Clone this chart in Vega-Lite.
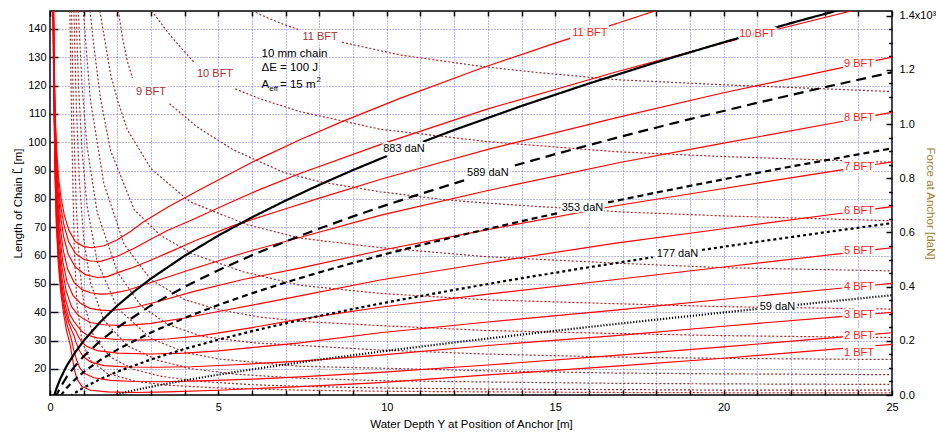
{
"$schema":"https://vega.github.io/schema/vega-lite/v6.json",
"width":842,"height":384,
"autosize":{"type":"none"},
"padding":{"left":50,"top":11,"right":44,"bottom":39},
"background":"white",
"config":{
 "font":"Liberation Sans",
 "view":{"stroke":"#000","strokeWidth":1.5},
 "axis":{"domain":false,"labelFont":"Liberation Sans","labelFontSize":11,"labelColor":"#000","titleFont":"Liberation Sans","titleFontSize":11.5,"titleFontWeight":"normal","titleColor":"#000","tickColor":"#000","tickWidth":1.5,"gridColor":"#4d4dff","gridDash":[1,2],"gridOpacity":0.8,"gridWidth":1,"labelFlush":false,"labelOverlap":false,"labelBound":false},
 "text":{"font":"Liberation Sans"}
},
"datasets":{
"red":[
{"bft":1,"seg":0,"x":0.088,"L":147},{"bft":1,"seg":0,"x":0.106,"L":125},{"bft":1,"seg":0,"x":0.124,"L":108},{"bft":1,"seg":0,"x":0.151,"L":87},{"bft":1,"seg":0,"x":0.188,"L":71},{"bft":1,"seg":0,"x":0.245,"L":57.5},{"bft":1,"seg":0,"x":0.32,"L":47},{"bft":1,"seg":0,"x":0.41,"L":39},{"bft":1,"seg":0,"x":0.49,"L":33.5},{"bft":1,"seg":0,"x":0.55,"L":30.8},{"bft":1,"seg":0,"x":0.59,"L":29.1},{"bft":1,"seg":0,"x":0.65,"L":25},{"bft":1,"seg":0,"x":0.72,"L":20},{"bft":1,"seg":0,"x":0.8,"L":16.5},{"bft":1,"seg":0,"x":0.95,"L":13.8},{"bft":1,"seg":0,"x":1.2,"L":12.5},{"bft":1,"seg":0,"x":1.7,"L":11.9},{"bft":1,"seg":0,"x":2.5,"L":11.7},{"bft":1,"seg":0,"x":3.5,"L":11.9},{"bft":1,"seg":0,"x":5,"L":12.5},{"bft":1,"seg":0,"x":7.42,"L":13.8},{"bft":1,"seg":0,"x":9.8,"L":15.2},{"bft":1,"seg":0,"x":13,"L":17.9},{"bft":1,"seg":0,"x":16.8,"L":21},{"bft":1,"seg":0,"x":20,"L":23.8},{"bft":1,"seg":0,"x":23.55,"L":27.28},{"bft":1,"seg":1,"x":24.5,"L":28.21},{"bft":1,"seg":1,"x":25,"L":28.7},
{"bft":2,"seg":0,"x":0.09,"L":147},{"bft":2,"seg":0,"x":0.108,"L":125},{"bft":2,"seg":0,"x":0.127,"L":108},{"bft":2,"seg":0,"x":0.154,"L":88},{"bft":2,"seg":0,"x":0.192,"L":72},{"bft":2,"seg":0,"x":0.25,"L":58.5},{"bft":2,"seg":0,"x":0.33,"L":48},{"bft":2,"seg":0,"x":0.43,"L":40},{"bft":2,"seg":0,"x":0.52,"L":35},{"bft":2,"seg":0,"x":0.59,"L":32.3},{"bft":2,"seg":0,"x":0.64,"L":30.3},{"bft":2,"seg":0,"x":0.7,"L":27},{"bft":2,"seg":0,"x":0.78,"L":23.5},{"bft":2,"seg":0,"x":0.88,"L":20.5},{"bft":2,"seg":0,"x":1,"L":18.6},{"bft":2,"seg":0,"x":1.3,"L":16.9},{"bft":2,"seg":0,"x":1.8,"L":16},{"bft":2,"seg":0,"x":2.5,"L":15.6},{"bft":2,"seg":0,"x":3.3,"L":15.5},{"bft":2,"seg":0,"x":4.5,"L":15.8},{"bft":2,"seg":0,"x":6,"L":16.4},{"bft":2,"seg":0,"x":7.42,"L":17.2},{"bft":2,"seg":0,"x":9.8,"L":18.8},{"bft":2,"seg":0,"x":13,"L":21.4},{"bft":2,"seg":0,"x":16.8,"L":24.8},{"bft":2,"seg":0,"x":20,"L":27.8},{"bft":2,"seg":0,"x":23.55,"L":31.35},{"bft":2,"seg":1,"x":24.5,"L":32.3},{"bft":2,"seg":1,"x":25,"L":32.8},
{"bft":3,"seg":0,"x":0.092,"L":147},{"bft":3,"seg":0,"x":0.11,"L":125},{"bft":3,"seg":0,"x":0.13,"L":108},{"bft":3,"seg":0,"x":0.157,"L":89},{"bft":3,"seg":0,"x":0.196,"L":73},{"bft":3,"seg":0,"x":0.255,"L":59.5},{"bft":3,"seg":0,"x":0.335,"L":49},{"bft":3,"seg":0,"x":0.44,"L":41},{"bft":3,"seg":0,"x":0.56,"L":36},{"bft":3,"seg":0,"x":0.64,"L":33.7},{"bft":3,"seg":0,"x":0.71,"L":31.9},{"bft":3,"seg":0,"x":0.78,"L":29.2},{"bft":3,"seg":0,"x":0.87,"L":26.5},{"bft":3,"seg":0,"x":1,"L":24.2},{"bft":3,"seg":0,"x":1.2,"L":22.5},{"bft":3,"seg":0,"x":1.6,"L":21.2},{"bft":3,"seg":0,"x":2.3,"L":20.7},{"bft":3,"seg":0,"x":3.2,"L":20.6},{"bft":3,"seg":0,"x":4.2,"L":20.8},{"bft":3,"seg":0,"x":5.5,"L":21.5},{"bft":3,"seg":0,"x":7.42,"L":22.8},{"bft":3,"seg":0,"x":9.8,"L":24.9},{"bft":3,"seg":0,"x":13,"L":28.3},{"bft":3,"seg":0,"x":16.8,"L":31.8},{"bft":3,"seg":0,"x":20,"L":35.1},{"bft":3,"seg":0,"x":23.55,"L":38.58},{"bft":3,"seg":1,"x":24.5,"L":39.51},{"bft":3,"seg":1,"x":25,"L":40},
{"bft":4,"seg":0,"x":0.094,"L":147},{"bft":4,"seg":0,"x":0.112,"L":125},{"bft":4,"seg":0,"x":0.133,"L":108},{"bft":4,"seg":0,"x":0.16,"L":90},{"bft":4,"seg":0,"x":0.2,"L":74.5},{"bft":4,"seg":0,"x":0.26,"L":61},{"bft":4,"seg":0,"x":0.34,"L":50.5},{"bft":4,"seg":0,"x":0.45,"L":42.5},{"bft":4,"seg":0,"x":0.58,"L":37},{"bft":4,"seg":0,"x":0.68,"L":35},{"bft":4,"seg":0,"x":0.77,"L":33.3},{"bft":4,"seg":0,"x":0.85,"L":31.3},{"bft":4,"seg":0,"x":0.95,"L":29.5},{"bft":4,"seg":0,"x":1.1,"L":27.9},{"bft":4,"seg":0,"x":1.4,"L":26.5},{"bft":4,"seg":0,"x":2,"L":25.6},{"bft":4,"seg":0,"x":3,"L":25.3},{"bft":4,"seg":0,"x":4,"L":25.6},{"bft":4,"seg":0,"x":5,"L":26.4},{"bft":4,"seg":0,"x":7.42,"L":29.2},{"bft":4,"seg":0,"x":9.8,"L":32.8},{"bft":4,"seg":0,"x":13,"L":36.6},{"bft":4,"seg":0,"x":16.8,"L":40.8},{"bft":4,"seg":0,"x":20,"L":44.6},{"bft":4,"seg":0,"x":23.55,"L":48.58},{"bft":4,"seg":1,"x":24.5,"L":49.64},{"bft":4,"seg":1,"x":25,"L":50.2},
{"bft":5,"seg":0,"x":0.096,"L":147},{"bft":5,"seg":0,"x":0.114,"L":125},{"bft":5,"seg":0,"x":0.136,"L":108},{"bft":5,"seg":0,"x":0.164,"L":91},{"bft":5,"seg":0,"x":0.205,"L":76},{"bft":5,"seg":0,"x":0.265,"L":63},{"bft":5,"seg":0,"x":0.35,"L":52.5},{"bft":5,"seg":0,"x":0.46,"L":44.5},{"bft":5,"seg":0,"x":0.6,"L":39},{"bft":5,"seg":0,"x":0.72,"L":36.6},{"bft":5,"seg":0,"x":0.84,"L":34.8},{"bft":5,"seg":0,"x":0.95,"L":33.2},{"bft":5,"seg":0,"x":1.1,"L":32},{"bft":5,"seg":0,"x":1.4,"L":31},{"bft":5,"seg":0,"x":2,"L":30.4},{"bft":5,"seg":0,"x":2.7,"L":30.2},{"bft":5,"seg":0,"x":3.5,"L":30.6},{"bft":5,"seg":0,"x":4.5,"L":31.8},{"bft":5,"seg":0,"x":6,"L":34.6},{"bft":5,"seg":0,"x":7.42,"L":37.6},{"bft":5,"seg":0,"x":9.8,"L":41.8},{"bft":5,"seg":0,"x":13,"L":46.4},{"bft":5,"seg":0,"x":16.8,"L":51.6},{"bft":5,"seg":0,"x":20,"L":56},{"bft":5,"seg":0,"x":23.55,"L":60.83},{"bft":5,"seg":1,"x":24.5,"L":62.12},{"bft":5,"seg":1,"x":25,"L":62.8},
{"bft":6,"seg":0,"x":0.098,"L":147},{"bft":6,"seg":0,"x":0.116,"L":125},{"bft":6,"seg":0,"x":0.139,"L":108},{"bft":6,"seg":0,"x":0.168,"L":92},{"bft":6,"seg":0,"x":0.21,"L":78},{"bft":6,"seg":0,"x":0.27,"L":66},{"bft":6,"seg":0,"x":0.36,"L":55.5},{"bft":6,"seg":0,"x":0.48,"L":47.5},{"bft":6,"seg":0,"x":0.64,"L":42},{"bft":6,"seg":0,"x":0.82,"L":39.2},{"bft":6,"seg":0,"x":0.99,"L":37.7},{"bft":6,"seg":0,"x":1.2,"L":36.4},{"bft":6,"seg":0,"x":1.6,"L":35.6},{"bft":6,"seg":0,"x":2.2,"L":35.3},{"bft":6,"seg":0,"x":3,"L":36.1},{"bft":6,"seg":0,"x":4,"L":38},{"bft":6,"seg":0,"x":5,"L":40.3},{"bft":6,"seg":0,"x":6.2,"L":43},{"bft":6,"seg":0,"x":7.42,"L":45.8},{"bft":6,"seg":0,"x":9.8,"L":51.4},{"bft":6,"seg":0,"x":13,"L":57.5},{"bft":6,"seg":0,"x":16.8,"L":64.4},{"bft":6,"seg":0,"x":20,"L":69.5},{"bft":6,"seg":0,"x":23.55,"L":75.04},{"bft":6,"seg":1,"x":24.5,"L":76.52},{"bft":6,"seg":1,"x":25,"L":77.3},
{"bft":7,"seg":0,"x":0.1,"L":147},{"bft":7,"seg":0,"x":0.118,"L":125},{"bft":7,"seg":0,"x":0.142,"L":108},{"bft":7,"seg":0,"x":0.172,"L":93},{"bft":7,"seg":0,"x":0.215,"L":80},{"bft":7,"seg":0,"x":0.28,"L":68.5},{"bft":7,"seg":0,"x":0.37,"L":58.5},{"bft":7,"seg":0,"x":0.5,"L":51},{"bft":7,"seg":0,"x":0.68,"L":46},{"bft":7,"seg":0,"x":0.9,"L":43.2},{"bft":7,"seg":0,"x":1.19,"L":41.4},{"bft":7,"seg":0,"x":1.5,"L":40.8},{"bft":7,"seg":0,"x":1.8,"L":40.6},{"bft":7,"seg":0,"x":2.5,"L":41.7},{"bft":7,"seg":0,"x":3.27,"L":44},{"bft":7,"seg":0,"x":4.25,"L":47.3},{"bft":7,"seg":0,"x":5.73,"L":51.6},{"bft":7,"seg":0,"x":7.42,"L":55.6},{"bft":7,"seg":0,"x":9.8,"L":61.8},{"bft":7,"seg":0,"x":13,"L":69.2},{"bft":7,"seg":0,"x":16.8,"L":77.6},{"bft":7,"seg":0,"x":20,"L":83.7},{"bft":7,"seg":0,"x":23.55,"L":90.37},{"bft":7,"seg":1,"x":24.5,"L":92.16},{"bft":7,"seg":1,"x":25,"L":93.1},
{"bft":8,"seg":0,"x":0.102,"L":147},{"bft":8,"seg":0,"x":0.121,"L":125},{"bft":8,"seg":0,"x":0.146,"L":108},{"bft":8,"seg":0,"x":0.177,"L":94},{"bft":8,"seg":0,"x":0.22,"L":82},{"bft":8,"seg":0,"x":0.29,"L":71.5},{"bft":8,"seg":0,"x":0.39,"L":62},{"bft":8,"seg":0,"x":0.53,"L":55},{"bft":8,"seg":0,"x":0.72,"L":50.5},{"bft":8,"seg":0,"x":0.95,"L":48},{"bft":8,"seg":0,"x":1.2,"L":46.9},{"bft":8,"seg":0,"x":1.48,"L":46.4},{"bft":8,"seg":0,"x":1.8,"L":46.6},{"bft":8,"seg":0,"x":2.3,"L":47.8},{"bft":8,"seg":0,"x":3,"L":50.5},{"bft":8,"seg":0,"x":4.16,"L":55},{"bft":8,"seg":0,"x":5.84,"L":61.3},{"bft":8,"seg":0,"x":7.42,"L":66.4},{"bft":8,"seg":0,"x":9.8,"L":74.2},{"bft":8,"seg":0,"x":13,"L":83},{"bft":8,"seg":0,"x":16.92,"L":92.9},{"bft":8,"seg":0,"x":20,"L":99.7},{"bft":8,"seg":0,"x":23.55,"L":107.44},{"bft":8,"seg":1,"x":24.5,"L":109.51},{"bft":8,"seg":1,"x":25,"L":110.6},
{"bft":9,"seg":0,"x":0.104,"L":147},{"bft":9,"seg":0,"x":0.124,"L":125},{"bft":9,"seg":0,"x":0.15,"L":108},{"bft":9,"seg":0,"x":0.183,"L":95},{"bft":9,"seg":0,"x":0.23,"L":84},{"bft":9,"seg":0,"x":0.3,"L":75},{"bft":9,"seg":0,"x":0.4,"L":67},{"bft":9,"seg":0,"x":0.54,"L":60.5},{"bft":9,"seg":0,"x":0.75,"L":56},{"bft":9,"seg":0,"x":1.05,"L":53.3},{"bft":9,"seg":0,"x":1.4,"L":52.3},{"bft":9,"seg":0,"x":1.7,"L":52.6},{"bft":9,"seg":0,"x":2.03,"L":54.1},{"bft":9,"seg":0,"x":2.5,"L":56},{"bft":9,"seg":0,"x":3,"L":58.5},{"bft":9,"seg":0,"x":3.46,"L":60.8},{"bft":9,"seg":0,"x":4.36,"L":65.5},{"bft":9,"seg":0,"x":5.44,"L":70.6},{"bft":9,"seg":0,"x":6.93,"L":76.3},{"bft":9,"seg":0,"x":8.02,"L":80.4},{"bft":9,"seg":0,"x":9.8,"L":86.9},{"bft":9,"seg":0,"x":11.78,"L":93.5},{"bft":9,"seg":0,"x":13,"L":97.5},{"bft":9,"seg":0,"x":16.92,"L":109},{"bft":9,"seg":0,"x":20,"L":117.5},{"bft":9,"seg":0,"x":23.55,"L":126.45},{"bft":9,"seg":1,"x":24.5,"L":128.84},{"bft":9,"seg":1,"x":25,"L":130.1},
{"bft":10,"seg":0,"x":0.106,"L":147},{"bft":10,"seg":0,"x":0.127,"L":125},{"bft":10,"seg":0,"x":0.155,"L":108},{"bft":10,"seg":0,"x":0.19,"L":96},{"bft":10,"seg":0,"x":0.24,"L":86},{"bft":10,"seg":0,"x":0.31,"L":78},{"bft":10,"seg":0,"x":0.41,"L":71},{"bft":10,"seg":0,"x":0.55,"L":65},{"bft":10,"seg":0,"x":0.75,"L":60.8},{"bft":10,"seg":0,"x":1,"L":58.7},{"bft":10,"seg":0,"x":1.2,"L":58.1},{"bft":10,"seg":0,"x":1.5,"L":58},{"bft":10,"seg":0,"x":2,"L":59.8},{"bft":10,"seg":0,"x":2.5,"L":62.6},{"bft":10,"seg":0,"x":3.02,"L":66},{"bft":10,"seg":0,"x":3.5,"L":69},{"bft":10,"seg":0,"x":4.16,"L":72.3},{"bft":10,"seg":0,"x":5.25,"L":78.2},{"bft":10,"seg":0,"x":6.24,"L":83.4},{"bft":10,"seg":0,"x":7.42,"L":89},{"bft":10,"seg":0,"x":9.8,"L":99.2},{"bft":10,"seg":0,"x":13,"L":111.8},{"bft":10,"seg":0,"x":16.8,"L":124.8},{"bft":10,"seg":0,"x":20,"L":135.1},{"bft":10,"seg":0,"x":20.4,"L":136.3},{"bft":10,"seg":1,"x":21.6,"L":139.9},{"bft":10,"seg":1,"x":24,"L":147},
{"bft":11,"seg":0,"x":0.108,"L":147},{"bft":11,"seg":0,"x":0.13,"L":125},{"bft":11,"seg":0,"x":0.16,"L":108},{"bft":11,"seg":0,"x":0.2,"L":97},{"bft":11,"seg":0,"x":0.25,"L":88},{"bft":11,"seg":0,"x":0.32,"L":81},{"bft":11,"seg":0,"x":0.42,"L":74.5},{"bft":11,"seg":0,"x":0.56,"L":69},{"bft":11,"seg":0,"x":0.75,"L":65},{"bft":11,"seg":0,"x":1,"L":63.2},{"bft":11,"seg":0,"x":1.25,"L":62.8},{"bft":11,"seg":0,"x":1.6,"L":63.5},{"bft":11,"seg":0,"x":2,"L":65.6},{"bft":11,"seg":0,"x":2.4,"L":68.6},{"bft":11,"seg":0,"x":2.77,"L":71.9},{"bft":11,"seg":0,"x":3.5,"L":77.2},{"bft":11,"seg":0,"x":4.5,"L":83.6},{"bft":11,"seg":0,"x":6,"L":93},{"bft":11,"seg":0,"x":7.42,"L":100.9},{"bft":11,"seg":0,"x":8.67,"L":107.3},{"bft":11,"seg":0,"x":10.39,"L":115.5},{"bft":11,"seg":0,"x":12.86,"L":126.4},{"bft":11,"seg":0,"x":15,"L":135},{"bft":11,"seg":0,"x":15.44,"L":136.7},{"bft":11,"seg":1,"x":16.6,"L":141.1},{"bft":11,"seg":1,"x":16.92,"L":142.3},{"bft":11,"seg":1,"x":18.3,"L":147.7}
],
"dot":[
{"bft":1,"seg":0,"x":0.59,"F":1.418},{"bft":1,"seg":0,"x":0.65,"F":0.948},{"bft":1,"seg":0,"x":0.72,"F":0.547},{"bft":1,"seg":0,"x":0.8,"F":0.335},{"bft":1,"seg":0,"x":0.95,"F":0.197},{"bft":1,"seg":0,"x":1.2,"F":0.127},{"bft":1,"seg":0,"x":1.7,"F":0.08},{"bft":1,"seg":0,"x":2.5,"F":0.052},{"bft":1,"seg":0,"x":3.5,"F":0.036},{"bft":1,"seg":0,"x":5,"F":0.026},{"bft":1,"seg":0,"x":7.42,"F":0.018},{"bft":1,"seg":0,"x":9.8,"F":0.014},{"bft":1,"seg":0,"x":13,"F":0.0115},{"bft":1,"seg":0,"x":16.8,"F":0.0093},{"bft":1,"seg":0,"x":20,"F":0.0082},{"bft":1,"seg":0,"x":25,"F":0.0078},
{"bft":2,"seg":0,"x":0.64,"F":1.418},{"bft":2,"seg":0,"x":0.7,"F":1.026},{"bft":2,"seg":0,"x":0.78,"F":0.697},{"bft":2,"seg":0,"x":0.88,"F":0.47},{"bft":2,"seg":0,"x":1,"F":0.34},{"bft":2,"seg":0,"x":1.3,"F":0.215},{"bft":2,"seg":0,"x":1.8,"F":0.139},{"bft":2,"seg":0,"x":2.5,"F":0.094},{"bft":2,"seg":0,"x":3.3,"F":0.069},{"bft":2,"seg":0,"x":4.5,"F":0.05},{"bft":2,"seg":0,"x":6,"F":0.038},{"bft":2,"seg":0,"x":7.42,"F":0.032},{"bft":2,"seg":0,"x":9.8,"F":0.026},{"bft":2,"seg":0,"x":13,"F":0.022},{"bft":2,"seg":0,"x":16.8,"F":0.02},{"bft":2,"seg":0,"x":20,"F":0.018},{"bft":2,"seg":0,"x":25,"F":0.0178},
{"bft":3,"seg":0,"x":0.71,"F":1.418},{"bft":3,"seg":0,"x":0.78,"F":1.077},{"bft":3,"seg":0,"x":0.87,"F":0.795},{"bft":3,"seg":0,"x":1,"F":0.577},{"bft":3,"seg":0,"x":1.2,"F":0.415},{"bft":3,"seg":0,"x":1.6,"F":0.276},{"bft":3,"seg":0,"x":2.3,"F":0.182},{"bft":3,"seg":0,"x":3.2,"F":0.128},{"bft":3,"seg":0,"x":4.2,"F":0.097},{"bft":3,"seg":0,"x":5.5,"F":0.077},{"bft":3,"seg":0,"x":7.42,"F":0.062},{"bft":3,"seg":0,"x":9.8,"F":0.053},{"bft":3,"seg":0,"x":13,"F":0.048},{"bft":3,"seg":0,"x":16.8,"F":0.043},{"bft":3,"seg":0,"x":20,"F":0.041},{"bft":3,"seg":0,"x":25,"F":0.039},
{"bft":4,"seg":0,"x":0.77,"F":1.418},{"bft":4,"seg":0,"x":0.85,"F":1.136},{"bft":4,"seg":0,"x":0.95,"F":0.902},{"bft":4,"seg":0,"x":1.1,"F":0.697},{"bft":4,"seg":0,"x":1.4,"F":0.493},{"bft":4,"seg":0,"x":2,"F":0.321},{"bft":4,"seg":0,"x":3,"F":0.208},{"bft":4,"seg":0,"x":4,"F":0.158},{"bft":4,"seg":0,"x":5,"F":0.133},{"bft":4,"seg":0,"x":7.42,"F":0.106},{"bft":4,"seg":0,"x":9.8,"F":0.099},{"bft":4,"seg":0,"x":13,"F":0.089},{"bft":4,"seg":0,"x":16.8,"F":0.081},{"bft":4,"seg":0,"x":20,"F":0.078},{"bft":4,"seg":0,"x":25,"F":0.075},
{"bft":5,"seg":0,"x":0.84,"F":1.418},{"bft":5,"seg":0,"x":0.95,"F":1.143},{"bft":5,"seg":0,"x":1.1,"F":0.917},{"bft":5,"seg":0,"x":1.4,"F":0.675},{"bft":5,"seg":0,"x":2,"F":0.454},{"bft":5,"seg":0,"x":2.7,"F":0.33},{"bft":5,"seg":0,"x":3.5,"F":0.26},{"bft":5,"seg":0,"x":4.5,"F":0.217},{"bft":5,"seg":0,"x":6,"F":0.193},{"bft":5,"seg":0,"x":7.42,"F":0.183},{"bft":5,"seg":0,"x":9.8,"F":0.166},{"bft":5,"seg":0,"x":13,"F":0.151},{"bft":5,"seg":0,"x":16.8,"F":0.14},{"bft":5,"seg":0,"x":20,"F":0.135},{"bft":5,"seg":0,"x":25,"F":0.131},
{"bft":6,"seg":0,"x":0.99,"F":1.418},{"bft":6,"seg":0,"x":1.1,"F":1.24},{"bft":6,"seg":0,"x":1.2,"F":1.088},{"bft":6,"seg":0,"x":1.6,"F":0.78},{"bft":6,"seg":0,"x":2.2,"F":0.556},{"bft":6,"seg":0,"x":3,"F":0.425},{"bft":6,"seg":0,"x":4,"F":0.352},{"bft":6,"seg":0,"x":5,"F":0.315},{"bft":6,"seg":0,"x":6.2,"F":0.288},{"bft":6,"seg":0,"x":7.42,"F":0.272},{"bft":6,"seg":0,"x":9.8,"F":0.256},{"bft":6,"seg":0,"x":13,"F":0.238},{"bft":6,"seg":0,"x":16.8,"F":0.227},{"bft":6,"seg":0,"x":20,"F":0.219},{"bft":6,"seg":0,"x":25,"F":0.212},
{"bft":7,"seg":0,"x":1.19,"F":1.418},{"bft":7,"seg":0,"x":1.3,"F":1.29},{"bft":7,"seg":0,"x":1.5,"F":1.093},{"bft":7,"seg":0,"x":1.8,"F":0.901},{"bft":7,"seg":0,"x":2.5,"F":0.684},{"bft":7,"seg":0,"x":3.27,"F":0.59},{"bft":7,"seg":0,"x":4.25,"F":0.52},{"bft":7,"seg":0,"x":5.73,"F":0.455},{"bft":7,"seg":0,"x":7.42,"F":0.405},{"bft":7,"seg":0,"x":9.8,"F":0.375},{"bft":7,"seg":0,"x":13,"F":0.351},{"bft":7,"seg":0,"x":16.8,"F":0.337},{"bft":7,"seg":0,"x":20,"F":0.326},{"bft":7,"seg":0,"x":25,"F":0.317},
{"bft":8,"seg":0,"x":1.48,"F":1.418},{"bft":8,"seg":0,"x":1.6,"F":1.33},{"bft":8,"seg":0,"x":1.8,"F":1.183},{"bft":8,"seg":0,"x":2,"F":1.09},{"bft":8,"seg":0,"x":2.3,"F":0.978},{"bft":8,"seg":0,"x":3,"F":0.835},{"bft":8,"seg":0,"x":4.16,"F":0.713},{"bft":8,"seg":0,"x":5.84,"F":0.629},{"bft":8,"seg":0,"x":7.42,"F":0.579},{"bft":8,"seg":0,"x":9.8,"F":0.544},{"bft":8,"seg":0,"x":13,"F":0.51},{"bft":8,"seg":0,"x":16.92,"F":0.486},{"bft":8,"seg":0,"x":20,"F":0.47},{"bft":8,"seg":0,"x":25,"F":0.458},
{"bft":9,"seg":0,"x":2.03,"F":1.418},{"bft":9,"seg":0,"x":2.15,"F":1.32},{"bft":9,"seg":0,"x":2.3,"F":1.23},{"bft":9,"seg":0,"x":2.45,"F":1.17},{"bft":9,"seg":1,"x":3.55,"F":1.075},{"bft":9,"seg":1,"x":4.36,"F":0.99},{"bft":9,"seg":1,"x":5.44,"F":0.905},{"bft":9,"seg":1,"x":6.93,"F":0.822},{"bft":9,"seg":1,"x":8.02,"F":0.787},{"bft":9,"seg":1,"x":9.8,"F":0.75},{"bft":9,"seg":1,"x":11.78,"F":0.72},{"bft":9,"seg":1,"x":13,"F":0.708},{"bft":9,"seg":1,"x":16.92,"F":0.676},{"bft":9,"seg":1,"x":20,"F":0.661},{"bft":9,"seg":1,"x":25,"F":0.643},
{"bft":10,"seg":0,"x":3.02,"F":1.418},{"bft":10,"seg":0,"x":3.5,"F":1.338},{"bft":10,"seg":0,"x":3.9,"F":1.28},{"bft":10,"seg":0,"x":4.3,"F":1.225},{"bft":10,"seg":1,"x":5.5,"F":1.13},{"bft":10,"seg":1,"x":6.24,"F":1.093},{"bft":10,"seg":1,"x":7.42,"F":1.046},{"bft":10,"seg":1,"x":9.8,"F":0.981},{"bft":10,"seg":1,"x":13,"F":0.935},{"bft":10,"seg":1,"x":16.8,"F":0.898},{"bft":10,"seg":1,"x":20,"F":0.88},{"bft":10,"seg":1,"x":25,"F":0.859},
{"bft":11,"seg":0,"x":6,"F":1.418},{"bft":11,"seg":0,"x":6.5,"F":1.39},{"bft":11,"seg":0,"x":7,"F":1.365},{"bft":11,"seg":0,"x":7.42,"F":1.347},{"bft":11,"seg":1,"x":8.67,"F":1.302},{"bft":11,"seg":1,"x":10.39,"F":1.255},{"bft":11,"seg":1,"x":12.86,"F":1.212},{"bft":11,"seg":1,"x":14.5,"F":1.19},{"bft":11,"seg":1,"x":16.92,"F":1.163},{"bft":11,"seg":1,"x":20,"F":1.145},{"bft":11,"seg":1,"x":25,"F":1.12}
],
"blk":[
{"force":"883","seg":0,"x":0.1,"L":9.46},{"force":"883","seg":0,"x":0.15,"L":11.59},{"force":"883","seg":0,"x":0.2,"L":13.38},{"force":"883","seg":0,"x":0.3,"L":16.39},{"force":"883","seg":0,"x":0.5,"L":21.17},{"force":"883","seg":0,"x":0.75,"L":25.93},{"force":"883","seg":0,"x":1,"L":29.94},{"force":"883","seg":0,"x":1.5,"L":36.68},{"force":"883","seg":0,"x":2,"L":42.37},{"force":"883","seg":0,"x":2.5,"L":47.38},{"force":"883","seg":0,"x":3,"L":51.92},{"force":"883","seg":0,"x":4,"L":59.98},{"force":"883","seg":0,"x":5,"L":67.1},{"force":"883","seg":0,"x":6,"L":73.54},{"force":"883","seg":0,"x":7,"L":79.48},{"force":"883","seg":0,"x":8,"L":85.01},{"force":"883","seg":0,"x":9,"L":90.22},{"force":"883","seg":0,"x":10,"L":95.15},{"force":"883","seg":1,"x":11.07,"L":100.17},{"force":"883","seg":1,"x":12,"L":104.35},{"force":"883","seg":1,"x":14,"L":112.83},{"force":"883","seg":1,"x":16,"L":120.76},{"force":"883","seg":1,"x":18,"L":128.22},{"force":"883","seg":1,"x":20,"L":135.31},{"force":"883","seg":1,"x":22,"L":142.07},{"force":"883","seg":1,"x":24,"L":148.54},
{"force":"589","seg":0,"x":0.15,"L":9.47},{"force":"589","seg":0,"x":0.2,"L":10.93},{"force":"589","seg":0,"x":0.3,"L":13.39},{"force":"589","seg":0,"x":0.5,"L":17.29},{"force":"589","seg":0,"x":0.75,"L":21.18},{"force":"589","seg":0,"x":1,"L":24.46},{"force":"589","seg":0,"x":1.5,"L":29.97},{"force":"589","seg":0,"x":2,"L":34.62},{"force":"589","seg":0,"x":3,"L":42.43},{"force":"589","seg":0,"x":4,"L":49.04},{"force":"589","seg":0,"x":5,"L":54.87},{"force":"589","seg":0,"x":6,"L":60.16},{"force":"589","seg":0,"x":7,"L":65.03},{"force":"589","seg":0,"x":8,"L":69.58},{"force":"589","seg":0,"x":9,"L":73.86},{"force":"589","seg":0,"x":10,"L":77.92},{"force":"589","seg":0,"x":11,"L":81.79},{"force":"589","seg":0,"x":12.3,"L":86.58},{"force":"589","seg":1,"x":13.8,"L":91.83},{"force":"589","seg":1,"x":15,"L":95.83},{"force":"589","seg":1,"x":17,"L":102.18},{"force":"589","seg":1,"x":19,"L":108.2},{"force":"589","seg":1,"x":21,"L":113.94},{"force":"589","seg":1,"x":23,"L":119.43},{"force":"589","seg":1,"x":25,"L":124.72},
{"force":"353","seg":0,"x":0.3,"L":10.37},{"force":"353","seg":0,"x":0.5,"L":13.39},{"force":"353","seg":0,"x":0.75,"L":16.4},{"force":"353","seg":0,"x":1,"L":18.95},{"force":"353","seg":0,"x":1.5,"L":23.22},{"force":"353","seg":0,"x":2,"L":26.83},{"force":"353","seg":0,"x":3,"L":32.91},{"force":"353","seg":0,"x":4,"L":38.05},{"force":"353","seg":0,"x":5,"L":42.6},{"force":"353","seg":0,"x":6,"L":46.73},{"force":"353","seg":0,"x":7,"L":50.55},{"force":"353","seg":0,"x":8,"L":54.11},{"force":"353","seg":0,"x":9,"L":57.47},{"force":"353","seg":0,"x":10,"L":60.66},{"force":"353","seg":0,"x":11,"L":63.71},{"force":"353","seg":0,"x":12,"L":66.63},{"force":"353","seg":0,"x":13,"L":69.45},{"force":"353","seg":0,"x":14,"L":72.17},{"force":"353","seg":0,"x":15.05,"L":74.93},{"force":"353","seg":1,"x":16.57,"L":78.78},{"force":"353","seg":1,"x":18,"L":82.27},{"force":"353","seg":1,"x":20,"L":86.95},{"force":"353","seg":1,"x":22,"L":91.43},{"force":"353","seg":1,"x":24,"L":95.75},{"force":"353","seg":1,"x":25,"L":97.85},
{"force":"177","seg":0,"x":0.6,"L":10.39},{"force":"177","seg":0,"x":0.75,"L":11.62},{"force":"177","seg":0,"x":1,"L":13.43},{"force":"177","seg":0,"x":1.5,"L":16.47},{"force":"177","seg":0,"x":2,"L":19.05},{"force":"177","seg":0,"x":3,"L":23.39},{"force":"177","seg":0,"x":4,"L":27.09},{"force":"177","seg":0,"x":5,"L":30.36},{"force":"177","seg":0,"x":6,"L":33.35},{"force":"177","seg":0,"x":7,"L":36.12},{"force":"177","seg":0,"x":8,"L":38.72},{"force":"177","seg":0,"x":9,"L":41.18},{"force":"177","seg":0,"x":10,"L":43.52},{"force":"177","seg":0,"x":12,"L":47.92},{"force":"177","seg":0,"x":14,"L":52.03},{"force":"177","seg":0,"x":16,"L":55.91},{"force":"177","seg":0,"x":17.9,"L":59.43},{"force":"177","seg":1,"x":19.36,"L":62.03},{"force":"177","seg":1,"x":21,"L":64.87},{"force":"177","seg":1,"x":23,"L":68.23},{"force":"177","seg":1,"x":25,"L":71.48},
{"force":"59","seg":0,"x":1.8,"L":10.53},{"force":"59","seg":0,"x":2,"L":11.12},{"force":"59","seg":0,"x":2.5,"L":12.48},{"force":"59","seg":0,"x":3,"L":13.73},{"force":"59","seg":0,"x":4,"L":15.97},{"force":"59","seg":0,"x":5,"L":18},{"force":"59","seg":0,"x":6,"L":19.87},{"force":"59","seg":0,"x":7,"L":21.62},{"force":"59","seg":0,"x":8,"L":23.29},{"force":"59","seg":0,"x":10,"L":26.42},{"force":"59","seg":0,"x":12,"L":29.35},{"force":"59","seg":0,"x":14,"L":32.14},{"force":"59","seg":0,"x":16,"L":34.83},{"force":"59","seg":0,"x":18,"L":37.42},{"force":"59","seg":0,"x":20,"L":39.95},{"force":"59","seg":0,"x":21,"L":41.19},{"force":"59","seg":1,"x":22.2,"L":42.67},{"force":"59","seg":1,"x":23.5,"L":44.24},{"force":"59","seg":1,"x":25,"L":46.04}
],
"rlab":[
{"x":24.02,"L":25.7,"t":"1 BFT"},{"x":24.02,"L":31.8,"t":"2 BFT"},{"x":24.02,"L":39.0,"t":"3 BFT"},{"x":24.02,"L":49.1,"t":"4 BFT"},{"x":24.02,"L":61.5,"t":"5 BFT"},{"x":24.02,"L":75.8,"t":"6 BFT"},{"x":24.02,"L":91.3,"t":"7 BFT"},{"x":24.02,"L":108.5,"t":"8 BFT"},{"x":24.02,"L":127.6,"t":"9 BFT"},{"x":21.0,"L":138.3,"t":"10 BFT"},{"x":16.03,"L":138.7,"t":"11 BFT"}
],
"dlab":[
{"x":3.0,"F":1.12,"t":"9 BFT"},{"x":4.9,"F":1.185,"t":"10 BFT"},{"x":8.02,"F":1.32,"t":"11 BFT"}
],
"blab":[
{"x":10.51,"L":97.6,"t":"883 daN"},{"x":13.0,"L":89.1,"t":"589 daN"},{"x":15.81,"L":76.8,"t":"353 daN"},{"x":18.63,"L":60.7,"t":"177 daN"},{"x":21.6,"L":41.9,"t":"59 daN"}
]
},
"layer":[
{
 "data":{"name":"dot"},
 "mark":{"type":"line","clip":true,"color":"#a52a2a","strokeWidth":1.2,"strokeDash":[2,2]},
 "encoding":{
  "x":{"field":"x","type":"quantitative","scale":{"domain":[0,25],"nice":false,"zero":false},"axis":null},
  "y":{"field":"F","type":"quantitative","scale":{"domain":[0,1.4173],"nice":false,"zero":false},
       "axis":{"orient":"right","values":[0,0.2,0.4,0.6,0.8,1,1.2,1.4],"tickSize":-6,"labelPadding":13,"grid":false,
               "labelExpr":"datum.value > 1.35 ? '1.4x10³' : format(datum.value, '.1f')",
               "title":"Force at Anchor [daN]","titleColor":"#a0802a","titleX":37,"titleY":192,"titleAngle":90,"titleAlign":"center","titleBaseline":"middle"}},
  "detail":[{"field":"bft"},{"field":"seg"}]
 }
},
{
 "data":{"name":"red"},
 "mark":{"type":"line","clip":true,"color":"#ff0000","strokeWidth":1.15},
 "encoding":{
  "x":{"field":"x","type":"quantitative","scale":{"domain":[0,25],"nice":false,"zero":false},
       "axis":{"orient":"bottom","values":[0,1,2,3,4,5,6,7,8,9,10,11,12,13,14,15,16,17,18,19,20,21,22,23,24,25],"labelExpr":"datum.value % 5 === 0 ? datum.label : ''","tickSize":-5,"labelPadding":11,"grid":true,
               "title":"Water Depth Y at Position of Anchor [m]","titleX":421,"titleY":29,"titleAlign":"center","titleBaseline":"middle"}},
  "y":{"field":"L","type":"quantitative","scale":{"domain":[10.82,146.35],"nice":false,"zero":false},
       "axis":{"orient":"left","values":[20,30,40,50,60,70,80,90,100,110,120,130,140],"tickSize":-8,"labelPadding":12,"grid":true,
               "title":"Length of Chain L̃ [m]","titleX":-32,"titleY":192,"titleAngle":270,"titleAlign":"center","titleBaseline":"middle"}},
  "detail":[{"field":"bft"},{"field":"seg"}]
 }
},
{
 "data":{"name":"blk"},
 "mark":{"type":"line","clip":true},
 "encoding":{
  "x":{"field":"x","type":"quantitative","scale":{"domain":[0,25],"nice":false,"zero":false},
       "axis":{"orient":"top","values":[0,1,2,3,4,5,6,7,8,9,10,11,12,13,14,15,16,17,18,19,20,21,22,23,24,25],"labels":false,"tickSize":-5,"grid":false,"title":null}},
  "y":{"field":"L","type":"quantitative","scale":{"domain":[10.82,146.35],"nice":false,"zero":false},"axis":null},
  "detail":[{"field":"force"},{"field":"seg"}],
  "strokeDash":{"field":"force","type":"nominal","scale":{"domain":["883","589","353","177","59"],"range":[[1,0],[10,6],[6,4],[3,3],[1.2,1.8]]},"legend":null},
  "strokeWidth":{"field":"force","type":"nominal","scale":{"domain":["883","589","353","177","59"],"range":[2.2,2.2,2.2,2.2,1.7]},"legend":null},
  "color":{"value":"#000000"}
 }
},
{
 "data":{"name":"dlab"},
 "mark":{"type":"text","color":"#ffffff","stroke":"#ffffff","strokeWidth":4,"strokeJoin":"round","fontSize":11,"align":"center","baseline":"middle"},
 "encoding":{
  "x":{"field":"x","type":"quantitative","scale":{"domain":[0,25],"nice":false,"zero":false},"axis":null},
  "y":{"field":"F","type":"quantitative","scale":{"domain":[0,1.4173],"nice":false,"zero":false},
       "axis":{"orient":"right","values":[0.05,0.1,0.15,0.25,0.3,0.35,0.45,0.5,0.55,0.65,0.7,0.75,0.85,0.9,0.95,1.05,1.1,1.15,1.25,1.3,1.35],"tickSize":-3.5,"labels":false,"grid":false,"title":null}},
  "text":{"field":"t"}
 }
},
{
 "data":{"name":"dlab"},
 "mark":{"type":"text","color":"#a83232","fontSize":11,"align":"center","baseline":"middle"},
 "encoding":{
  "x":{"field":"x","type":"quantitative","scale":{"domain":[0,25],"nice":false,"zero":false},"axis":null},
  "y":{"field":"F","type":"quantitative","scale":{"domain":[0,1.4173],"nice":false,"zero":false},"axis":null},
  "text":{"field":"t"}
 }
},
{
 "data":{"name":"rlab"},
 "mark":{"type":"text","color":"#ffffff","stroke":"#ffffff","strokeWidth":4,"strokeJoin":"round","fontSize":11,"align":"center","baseline":"middle"},
 "encoding":{
  "x":{"field":"x","type":"quantitative","scale":{"domain":[0,25],"nice":false,"zero":false},"axis":null},
  "y":{"field":"L","type":"quantitative","scale":{"domain":[10.82,146.35],"nice":false,"zero":false},"axis":null},
  "text":{"field":"t"}
 }
},
{
 "data":{"name":"rlab"},
 "mark":{"type":"text","color":"#ff1a1a","fontSize":11,"align":"center","baseline":"middle"},
 "encoding":{
  "x":{"field":"x","type":"quantitative","scale":{"domain":[0,25],"nice":false,"zero":false},"axis":null},
  "y":{"field":"L","type":"quantitative","scale":{"domain":[10.82,146.35],"nice":false,"zero":false},"axis":null},
  "text":{"field":"t"}
 }
},
{
 "data":{"name":"blab"},
 "mark":{"type":"text","color":"#ffffff","stroke":"#ffffff","strokeWidth":4,"strokeJoin":"round","fontSize":11,"align":"center","baseline":"middle"},
 "encoding":{
  "x":{"field":"x","type":"quantitative","scale":{"domain":[0,25],"nice":false,"zero":false},"axis":null},
  "y":{"field":"L","type":"quantitative","scale":{"domain":[10.82,146.35],"nice":false,"zero":false},"axis":null},
  "text":{"field":"t"}
 }
},
{
 "data":{"name":"blab"},
 "mark":{"type":"text","color":"#000","fontSize":11,"align":"center","baseline":"middle"},
 "encoding":{
  "x":{"field":"x","type":"quantitative","scale":{"domain":[0,25],"nice":false,"zero":false},"axis":null},
  "y":{"field":"L","type":"quantitative","scale":{"domain":[10.82,146.35],"nice":false,"zero":false},"axis":null},
  "text":{"field":"t"}
 }
},
{
 "data":{"values":[{"x":6.28,"L":131.2,"t":"10 mm chain"},{"x":6.28,"L":126.1,"t":"ΔE = 100 J"},{"x":6.28,"L":120.2,"t":"A"}]},
 "mark":{"type":"text","color":"#000","fontSize":11.5,"align":"left","baseline":"middle"},
 "encoding":{
  "x":{"field":"x","type":"quantitative","scale":{"domain":[0,25],"nice":false,"zero":false},"axis":null},
  "y":{"field":"L","type":"quantitative","scale":{"domain":[10.82,146.35],"nice":false,"zero":false},"axis":null},
  "text":{"field":"t"}
 }
},
{
 "data":{"values":[{"x":6.28,"L":120.2,"t":"eff"}]},
 "mark":{"type":"text","color":"#000","fontSize":8,"align":"left","baseline":"middle","dx":7.7,"dy":3.5},
 "encoding":{
  "x":{"field":"x","type":"quantitative","scale":{"domain":[0,25],"nice":false,"zero":false},"axis":null},
  "y":{"field":"L","type":"quantitative","scale":{"domain":[10.82,146.35],"nice":false,"zero":false},"axis":null},
  "text":{"field":"t"}
 }
},
{
 "data":{"values":[{"x":6.28,"L":120.2,"t":"= 15 m"}]},
 "mark":{"type":"text","color":"#000","fontSize":11.5,"align":"left","baseline":"middle","dx":18.5},
 "encoding":{
  "x":{"field":"x","type":"quantitative","scale":{"domain":[0,25],"nice":false,"zero":false},"axis":null},
  "y":{"field":"L","type":"quantitative","scale":{"domain":[10.82,146.35],"nice":false,"zero":false},"axis":null},
  "text":{"field":"t"}
 }
},
{
 "data":{"values":[{"x":6.28,"L":120.2,"t":"2"}]},
 "mark":{"type":"text","color":"#000","fontSize":8,"align":"left","baseline":"middle","dx":55,"dy":-5},
 "encoding":{
  "x":{"field":"x","type":"quantitative","scale":{"domain":[0,25],"nice":false,"zero":false},"axis":null},
  "y":{"field":"L","type":"quantitative","scale":{"domain":[10.82,146.35],"nice":false,"zero":false},"axis":null},
  "text":{"field":"t"}
 }
}
],
"resolve":{"scale":{"y":"independent"},"axis":{"x":"independent","y":"independent"}}
}
